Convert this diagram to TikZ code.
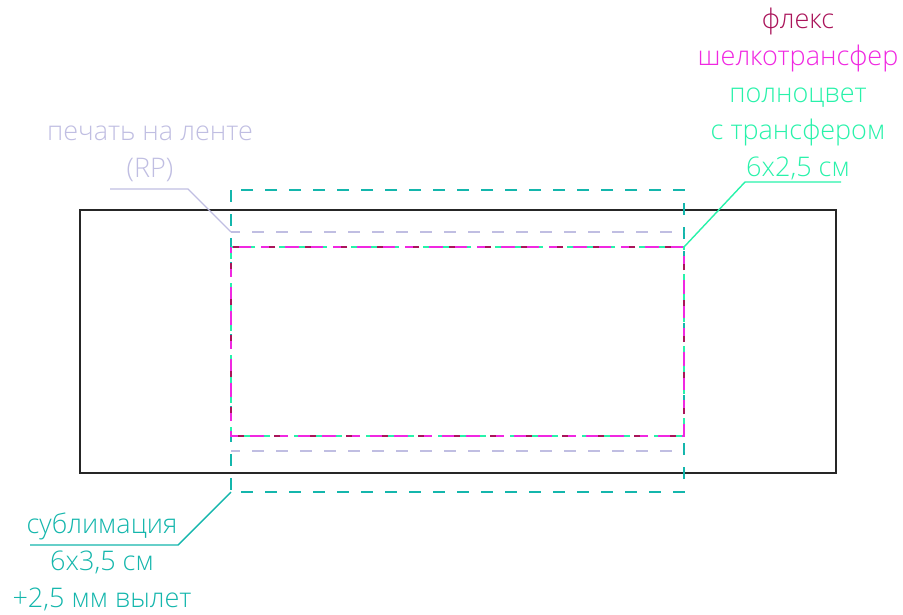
\documentclass[tikz,border=0pt]{standalone}
\usepackage{fontspec}
\setmainfont{Open Sans Light}
\usepackage{xcolor}
\usetikzlibrary{positioning}

\definecolor{sublim}{RGB}{20,182,172}
\definecolor{ribbon}{RGB}{192,190,226}
\definecolor{flex}{RGB}{170,20,90}
\definecolor{silk}{RGB}{240,40,225}
\definecolor{fullc}{RGB}{40,242,170}

\tikzset{
	dash12/.style={dash pattern=on 12pt off 12pt},
	lbl/.style={align=center, font=\fontsize{27}{37}\selectfont, inner sep=0pt},
}

\begin{document}
\begin{tikzpicture}[x=1pt, y=-1pt]
		\useasboundingbox (0,0) rectangle (903,614);

		% ribbon outline
		\draw[line width=1.5pt, black!85] (80,210) rectangle (836,473);

		% print areas
		\draw[line width=1.4pt, sublim, dash12] (231,190) rectangle (684,492);
		\draw[line width=1.4pt, ribbon, dash12, dash phase=3pt] (231,232) -- (684,232);
		\draw[line width=1.4pt, ribbon, dash12, dash phase=3pt] (231,451) -- (684,451);
		\draw[line width=1.4pt, fullc, dash pattern=on 12pt off 6pt] (231,247) rectangle (684,436);
		\draw[line width=1.4pt, silk, dash pattern=on 14pt off 10pt, dash phase=8pt] (231,247) rectangle (684,436);
		\draw[line width=1.4pt, flex, dash pattern=on 6pt off 30pt, dash phase=20pt] (231,247) rectangle (684,436);

		% labels
		\node[lbl] at (798,94) (tflex) {\textcolor{flex}{флекс}\\
			\textcolor{silk}{шелкотрансфер}\\
			\textcolor{fullc}{полноцвет}\\
			\textcolor{fullc}{с трансфером}\\
			\textcolor{fullc}{6х2,5 см}};
		\node[lbl, text=ribbon] at (150,154) (tribbon) {печать на ленте\\(RP)};
		\node[lbl, text=sublim] at (102,562) (tsublim) {сублимация\\6х3,5 см\\+2,5 мм вылет};

		% leaders
		\coordinate (flexend) at (684,247);
		\coordinate (ribbonend) at (231,232);
		\coordinate (sublimend) at (231,492);
		\draw[line width=1.4pt, fullc] (841,182) -- (745,182) -- (flexend);
		\draw[line width=1.2pt, ribbon] (110,189) -- (188,189) -- (ribbonend);
		\draw[line width=1.4pt, sublim] (30,545) -- (178,545) -- (sublimend);
	\end{tikzpicture}
\end{document}
